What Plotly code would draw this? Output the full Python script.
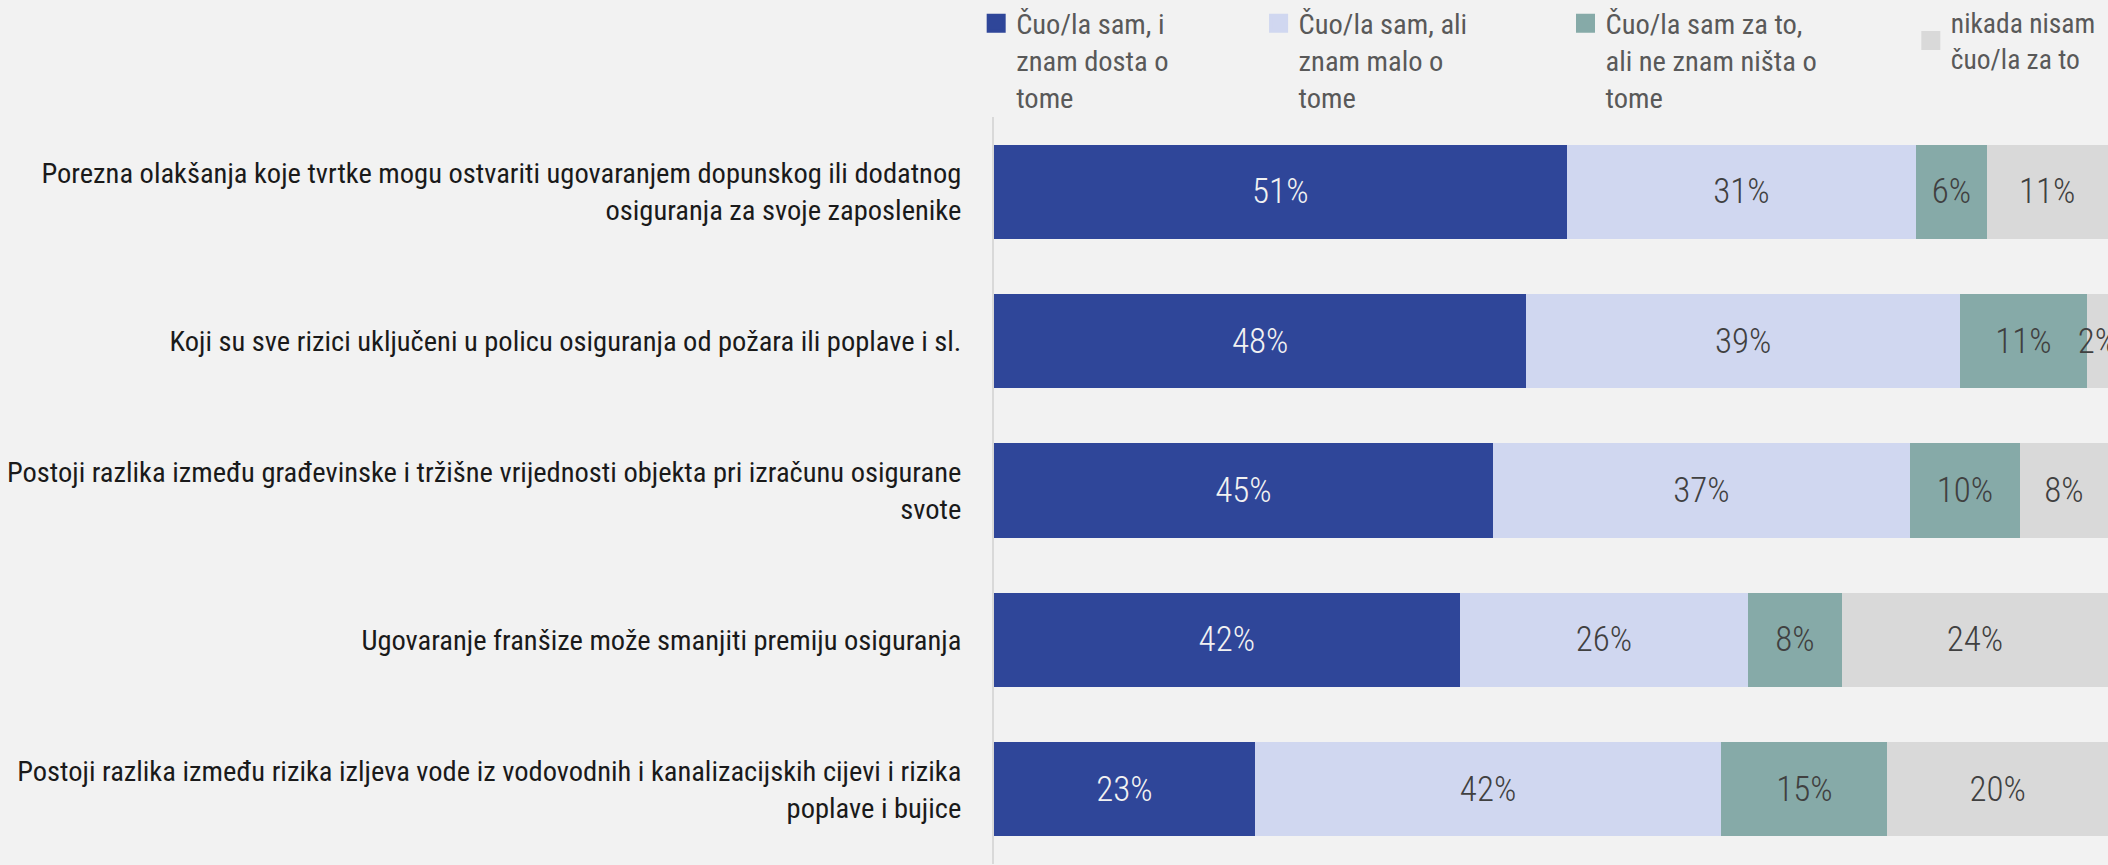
import plotly.graph_objects as go

categories = [
    "Porezna olakšanja koje tvrtke mogu ostvariti ugovaranjem dopunskog ili dodatnog<br>osiguranja za svoje zaposlenike",
    "Koji su sve rizici uključeni u policu osiguranja od požara ili poplave i sl.",
    "Postoji razlika između građevinske i tržišne vrijednosti objekta pri izračunu osigurane<br>svote",
    "Ugovaranje franšize može smanjiti premiju osiguranja",
    "Postoji razlika između rizika izljeva vode iz vodovodnih i kanalizacijskih cijevi i rizika<br>poplave i bujice",
]

series_names = [
    "Čuo/la sam, i<br>znam dosta o<br>tome",
    "Čuo/la sam, ali<br>znam malo o<br>tome",
    "Čuo/la sam za to,<br>ali ne znam ništa o<br>tome",
    "nikada nisam<br>čuo/la za to",
]

znam_dosta = [51.4, 47.8, 44.8, 41.8, 23.4]
znam_malo = [31.4, 38.9, 37.4, 25.9, 41.9]
ne_znam_nista = [6.3, 11.4, 9.9, 8.4, 14.9]
nikada_nisam = [10.9, 1.9, 7.9, 23.9, 19.8]

series_values = [znam_dosta, znam_malo, ne_znam_nista, nikada_nisam]
colors = ["#2f4699", "#d0d7f0", "#86aaa8", "#d9d9d9"]
text_colors = ["#f2f2f2", "#404040", "#404040", "#404040"]

FONT = "Liberation Sans Narrow, Arial Narrow, Roboto Condensed, sans-serif"

fig = go.Figure()
for name, vals, col, tcol in zip(series_names, series_values, colors, text_colors):
    fig.add_trace(go.Bar(
        y=categories, x=vals, name=name, orientation="h",
        marker=dict(color=col, line=dict(width=0)),
        texttemplate="%{x:.0f}%", textposition="inside",
        insidetextanchor="middle", constraintext="none", textangle=0,
        textfont=dict(family=FONT, size=35, color=tcol, weight=300),
        showlegend=False, cliponaxis=False,
    ))

legend_names = ["legend", "legend2", "legend3", "legend4"]
for name, col, lg in zip(series_names, colors, legend_names):
    fig.add_trace(go.Scatter(
        x=[None], y=[None], mode="markers", name=name,
        marker=dict(symbol="square", size=16, color=col, line=dict(width=3, color=col)),
        legend=lg, showlegend=True,
    ))

legend_x = [-0.016, 0.2375, 0.513, 0.823]
legend_font_sizes = [28.5, 28.5, 28.5, 27.5]
legend_valign = ["top", "top", "top", "middle"]
legend_y = [1.159, 1.159, 1.159, 1.159]
layout_legends = {}
for lg, lx, fs, va, ly in zip(legend_names, legend_x, legend_font_sizes, legend_valign, legend_y):
    layout_legends[lg] = dict(
        orientation="v", xref="paper", yref="paper", yanchor="top", y=ly,
        xanchor="left", bgcolor="rgba(0,0,0,0)", borderwidth=0,
        font=dict(family=FONT, size=fs, color="#595959"), valign=va, x=lx,
    )

fig.update_layout(
    width=2108, height=865,
    margin=dict(l=994, r=0, t=117, b=1, autoexpand=False),
    paper_bgcolor="#f2f2f2", plot_bgcolor="#f2f2f2",
    barmode="stack", bargap=0.37,
    font=dict(family=FONT, size=29, color="#1a1a1a"),
    xaxis=dict(range=[0, 100], visible=False, fixedrange=True, automargin=False),
    yaxis=dict(
        type="category", categoryorder="array", categoryarray=categories,
        autorange="reversed", showline=True, linecolor="#d9d9d9", linewidth=2,
        ticks="", showgrid=False, zeroline=False, ticklabelstandoff=25,
        automargin=False,
        tickfont=dict(family=FONT, size=28.5, color="#1a1a1a"),
    ),
    **layout_legends,
)

fig.write_html(
    "out.html",
    config={"displayModeBar": False},
    post_script="document.body.style.margin='0';document.body.style.background='#f2f2f2';",
)
